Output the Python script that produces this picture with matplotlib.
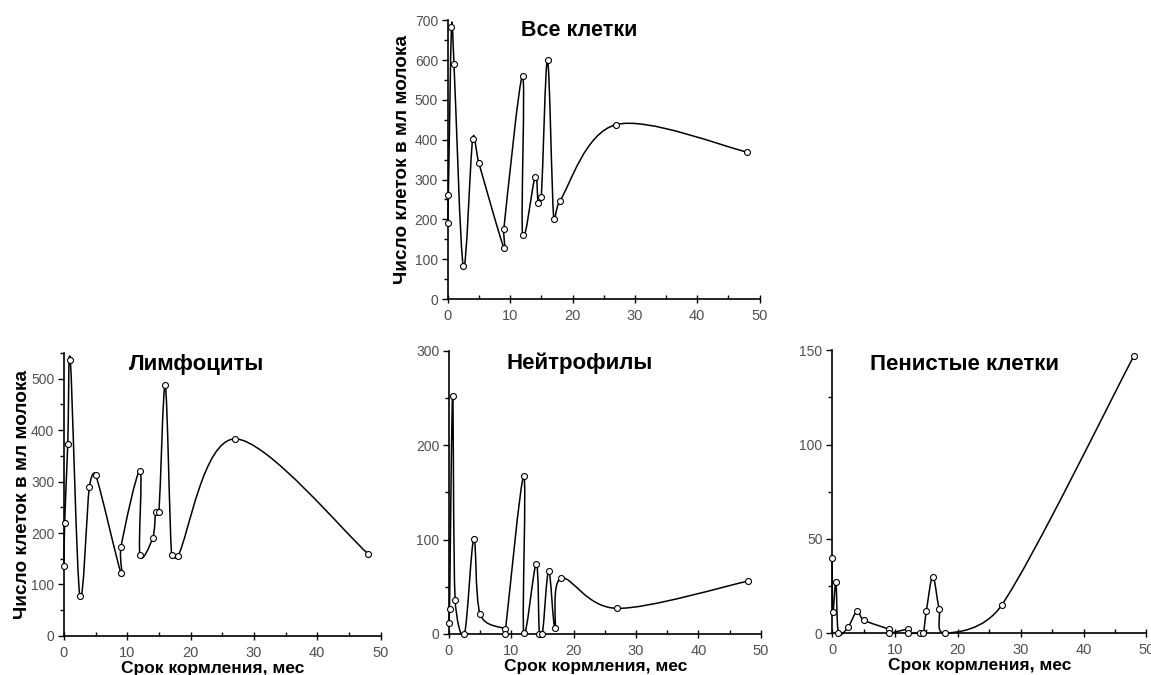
import matplotlib
matplotlib.use("Agg")
import numpy as np
import matplotlib.pyplot as plt
from matplotlib.path import Path
from matplotlib.patches import PathPatch
from matplotlib.ticker import MultipleLocator

plt.rcParams['font.family'] = ['Liberation Sans', 'DejaVu Sans']

# срок кормления, мес
months = [0, 0.1, 0.6, 1, 2.5, 4, 5, 9, 9, 12, 12, 14, 14.5, 15, 16, 17, 18, 27, 48]

all_cells = [190, 261, 683, 590, 82, 402, 341, 128, 177, 560, 161, 307, 241, 255, 601, 200, 247, 438, 369]
lymphocytes = [135, 220, 374, 536, 77, 289, 313, 122, 173, 321, 157, 190, 241, 241, 487, 157, 155, 383, 160]
neutrophils = [12, 26, 252, 36, 0, 101, 21, 5, 0, 167, 1, 74, 0, 0, 67, 6, 59, 27, 56]
foam_cells = [40, 11, 27, 0, 3, 12, 7, 2, 0, 2, 0, 0, 0, 12, 30, 13, 0, 15, 147]

ylabel = "Число клеток в мл молока"
xlabel = "Срок кормления, мес"


def smooth_path(ax, x, y):
    """ Excel-like smoothed line: Bezier segments with tangent arms
    limited to half the segment length (computed in screen space)
    :return: Path in data coordinates
    """
    pts = ax.transData.transform(np.column_stack([x, y]))
    n = len(pts)
    verts = [pts[0]]
    codes = [Path.MOVETO]
    for i in range(n - 1):
        p0 = pts[i - 1] if i > 0 else pts[i]
        p1 = pts[i]
        p2 = pts[i + 1]
        p3 = pts[i + 2] if i + 2 < n else pts[i + 1]
        d12 = np.hypot(*(p2 - p1))
        d02 = np.hypot(*(p2 - p0))
        d13 = np.hypot(*(p3 - p1))
        f1 = min(1 / 6, 0.5 * d12 / d02) if d02 > 0 else 0
        f2 = min(1 / 6, 0.5 * d12 / d13) if d13 > 0 else 0
        c1 = p1 + (p2 - p0) * f1
        c2 = p2 - (p3 - p1) * f2
        verts += [c1, c2, p2]
        codes += [Path.CURVE4] * 3
    verts = ax.transData.inverted().transform(np.array(verts))
    return Path(verts, codes)


def draw_panel(ax, values, title, ymax, ymajor, title_y, title_size,
               show_ylabel, show_xlabel):
    ax.set_xlim(0, 50)
    ax.set_ylim(0, ymax)
    ax.add_patch(PathPatch(smooth_path(ax, months, values), fill=False,
                           edgecolor="black", linewidth=1.1, clip_on=False))
    ax.plot(months, values, linestyle="none", marker="o", markersize=4.3,
            markerfacecolor="white", markeredgecolor="black",
            markeredgewidth=0.8, clip_on=False, zorder=3)

    for side in ["top", "right"]:
        ax.spines[side].set_visible(False)
    for side in ["left", "bottom"]:
        ax.spines[side].set_linewidth(1.2)

    ax.xaxis.set_major_locator(MultipleLocator(10))
    ax.xaxis.set_minor_locator(MultipleLocator(5))
    ax.yaxis.set_major_locator(MultipleLocator(ymajor))
    ax.yaxis.set_minor_locator(MultipleLocator(ymajor / 2))
    ax.tick_params(axis="y", which="major", direction="out", length=4, width=1,
                   labelsize=10, labelcolor="#505050", pad=3)
    ax.tick_params(axis="y", which="minor", direction="out", length=3, width=1)
    ax.tick_params(axis="x", which="major", direction="inout", length=6, width=1,
                   labelsize=10.5, labelcolor="#505050", pad=4)
    ax.tick_params(axis="x", which="minor", direction="in", length=3, width=1)

    ax.text(0.42, title_y, title, transform=ax.transAxes, ha="center",
            va="center", fontsize=title_size, fontweight="bold")
    if show_ylabel:
        ax.set_ylabel(ylabel, fontsize=13.7, fontweight="bold")
    if show_xlabel:
        ax.set_xlabel(xlabel, fontsize=12.5, fontweight="bold")
        ax.xaxis.set_label_coords(0.47, -0.088)


fig = plt.figure(figsize=(11.51, 6.75), dpi=100)

ax_all = fig.add_axes([0.389, 0.557, 0.271, 0.413])
ax_lym = fig.add_axes([0.0556, 0.058, 0.275, 0.419])
ax_neu = fig.add_axes([0.390, 0.061, 0.271, 0.419])
ax_foam = fig.add_axes([0.723, 0.062, 0.273, 0.419])

draw_panel(ax_all, all_cells, "Все клетки", 700, 100, 0.962, 15.5, True, False)
draw_panel(ax_lym, lymphocytes, "Лимфоциты", 550, 100, 0.958, 16, True, True)
draw_panel(ax_neu, neutrophils, "Нейтрофилы", 300, 100, 0.955, 16, False, True)
draw_panel(ax_foam, foam_cells, "Пенистые клетки", 150, 50, 0.95, 16, False, True)

ax_all.yaxis.set_label_coords(-0.118, 0.5)
ax_lym.yaxis.set_label_coords(-0.104, 0.5)

plt.savefig("out.png", dpi=100)
plt.close()
